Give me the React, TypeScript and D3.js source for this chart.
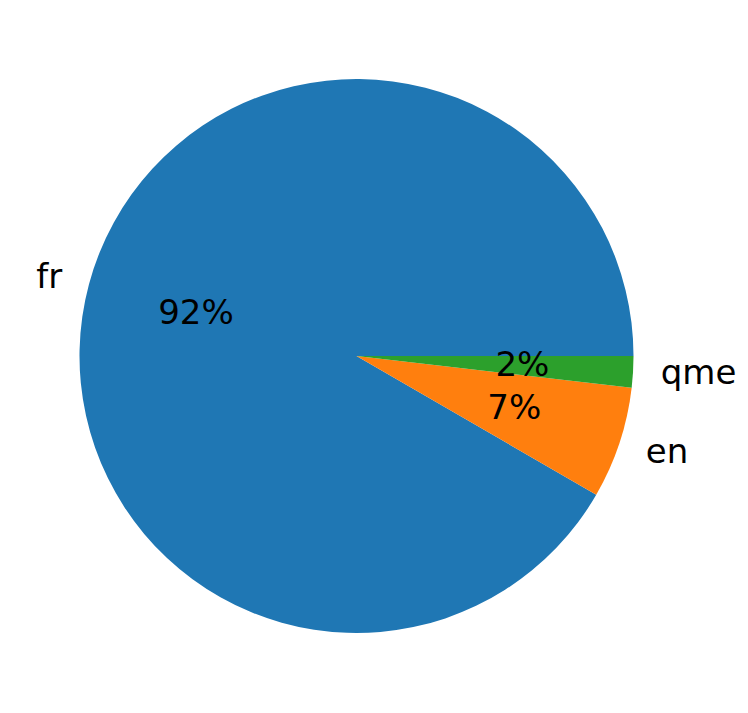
import React from "react";
import * as d3 from "d3";

const categories = ["fr", "en", "qme"];
const values = [0.9165, 0.0652, 0.0183];
const colors = ["#1f77b4", "#ff7f0e", "#2ca02c"];

const W = 748;
const H = 713;
const CX = 356.5;
const CY = 356;
const R = 277;
const FONT = 34;

export default function App() {
  const pie = d3
    .pie<number>()
    .sort(null)
    .startAngle(Math.PI / 2)
    .endAngle(Math.PI / 2 - 2 * Math.PI)(values);
  const arc = d3.arc<d3.PieArcDatum<number>>().innerRadius(0).outerRadius(R);
  const total = d3.sum(values);
  const pos = (d: d3.PieArcDatum<number>, k: number) => {
    const a = (d.startAngle + d.endAngle) / 2;
    return [Math.sin(a) * R * k, -Math.cos(a) * R * k];
  };
  return (
    <svg
      width={W}
      height={H}
      style={{ position: "absolute", left: 0, top: 0, background: "#fff" }}
      fontFamily="DejaVu Sans"
    >
      <g transform={`translate(${CX},${CY})`}>
        {pie.map((d, i) => (
          <path key={categories[i]} d={arc(d) || ""} fill={colors[i]} />
        ))}
        {pie.map((d, i) => {
          const [x, y] = pos(d, 1.1);
          return (
            <text
              key={"l" + i}
              x={x}
              y={y}
              dy="0.32em"
              fontSize={FONT}
              textAnchor={x < 0 ? "end" : "start"}
              fill="#000"
            >
              {categories[i]}
            </text>
          );
        })}
        {pie.map((d, i) => {
          const [x, y] = pos(d, 0.6);
          return (
            <text
              key={"p" + i}
              x={x}
              y={y}
              dy="0.32em"
              fontSize={FONT}
              textAnchor="middle"
              fill="#000"
            >
              {Math.round((values[i] / total) * 100) + "%"}
            </text>
          );
        })}
      </g>
    </svg>
  );
}
